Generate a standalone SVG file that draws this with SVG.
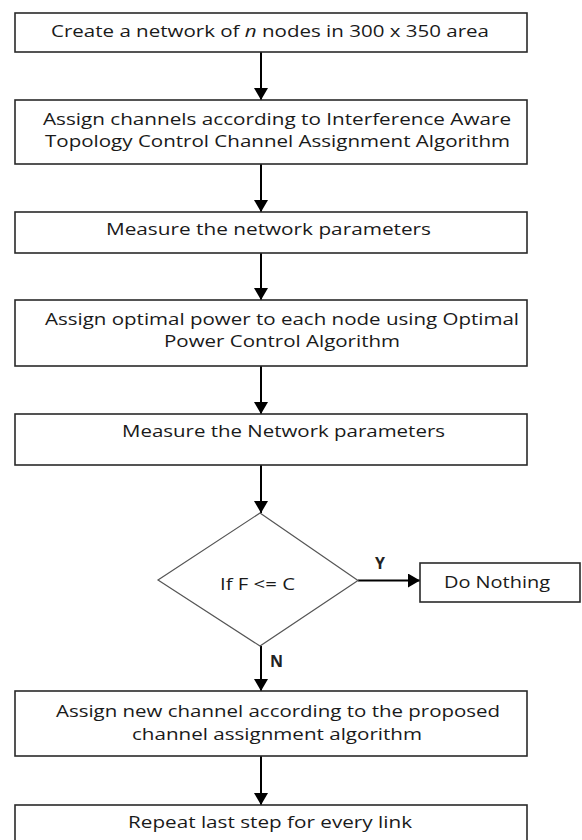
<svg xmlns="http://www.w3.org/2000/svg" width="582" height="840" viewBox="0 0 582 840">
<style>
.box{fill:#fff;stroke:#2a2a2a;stroke-width:1.6}
.dia{fill:#fff;stroke:#555;stroke-width:1.2}
.t{font-family:"Open Sans","Liberation Sans",sans-serif;font-size:16.5px;fill:#1a1a1a}
.lbl{font-family:"Open Sans","Liberation Sans",sans-serif;font-size:16px;font-weight:bold;fill:#222}
.c{stroke:#000;stroke-width:2;fill:none;marker-end:url(#ah)}
</style>
<defs>
<marker id="ah" markerUnits="userSpaceOnUse" markerWidth="13" markerHeight="14" refX="12" refY="7" orient="auto" viewBox="0 0 13 14">
<path d="M0,0 L12,7 L0,14 z" fill="#000"/>
</marker>
</defs>
<rect width="582" height="840" fill="#fff"/>
<g id="connectors">
<line class="c" x1="261" y1="52" x2="261" y2="100"/>
<line class="c" x1="261" y1="164" x2="261" y2="212"/>
<line class="c" x1="261" y1="253" x2="261" y2="300"/>
<line class="c" x1="261" y1="366" x2="261" y2="414"/>
<line class="c" x1="261" y1="465" x2="261" y2="513"/>
<line class="c" x1="358" y1="580.5" x2="420" y2="580.5"/>
<line class="c" x1="261" y1="646" x2="261" y2="691"/>
<line class="c" x1="261" y1="756" x2="261" y2="805"/>
<text class="lbl" x="375" y="569">Y</text>
<text class="lbl" x="270" y="667">N</text>
</g>
<g id="n1">
<rect class="box" x="15" y="13" width="512" height="39"/>
<text class="t" x="51" y="37" textLength="438" lengthAdjust="spacingAndGlyphs">Create a network of <tspan font-style="italic">n</tspan> nodes in 300 x 350 area</text>
</g>
<g id="n2">
<rect class="box" x="15" y="100" width="512" height="64"/>
<text class="t" x="43" y="125" textLength="468" lengthAdjust="spacingAndGlyphs">Assign channels according to Interference Aware</text>
<text class="t" x="45" y="147" textLength="465" lengthAdjust="spacingAndGlyphs">Topology Control Channel Assignment Algorithm</text>
</g>
<g id="n3">
<rect class="box" x="15" y="212" width="512" height="41"/>
<text class="t" x="106" y="235" textLength="325" lengthAdjust="spacingAndGlyphs">Measure the network parameters</text>
</g>
<g id="n4">
<rect class="box" x="15" y="300" width="512" height="66"/>
<text class="t" x="45" y="325" textLength="474" lengthAdjust="spacingAndGlyphs">Assign optimal power to each node using Optimal</text>
<text class="t" x="164" y="347" textLength="236" lengthAdjust="spacingAndGlyphs">Power Control Algorithm</text>
</g>
<g id="n5">
<rect class="box" x="15" y="414" width="512" height="51"/>
<text class="t" x="122" y="437" textLength="323" lengthAdjust="spacingAndGlyphs">Measure the Network parameters</text>
</g>
<g id="n6">
<polygon class="dia" points="260,513 358,580.5 260,646 158,580"/>
<text class="t" x="220" y="590" textLength="75" lengthAdjust="spacingAndGlyphs">If F &lt;= C</text>
</g>
<g id="n7">
<rect class="box" x="420" y="563" width="160" height="39"/>
<text class="t" x="444" y="588" textLength="106" lengthAdjust="spacingAndGlyphs">Do Nothing</text>
</g>
<g id="n8">
<rect class="box" x="15" y="691" width="512" height="65"/>
<text class="t" x="56" y="717" textLength="444" lengthAdjust="spacingAndGlyphs">Assign new channel according to the proposed</text>
<text class="t" x="132" y="740" textLength="290" lengthAdjust="spacingAndGlyphs">channel assignment algorithm</text>
</g>
<g id="n9">
<rect class="box" x="15" y="805" width="512" height="40"/>
<text class="t" x="128" y="828" textLength="284" lengthAdjust="spacingAndGlyphs">Repeat last step for every link</text>
</g>
</svg>
